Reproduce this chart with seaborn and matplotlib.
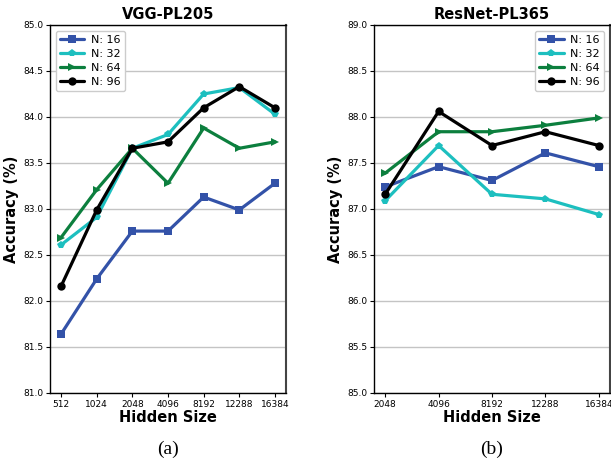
import pandas as pd
import matplotlib
matplotlib.use("Agg")
import matplotlib.pyplot as plt
import seaborn as sns

# hidden sizes for each panel
vgg_sizes = ["512", "1024", "2048", "4096", "8192", "12288", "16384"]
resnet_sizes = ["2048", "4096", "8192", "12288", "16384"]

# VGG-PL205 accuracies
vgg_n16 = [81.64, 82.24, 82.76, 82.76, 83.13, 82.99, 83.28]
vgg_n32 = [82.61, 82.91, 83.66, 83.81, 84.25, 84.32, 84.03]
vgg_n64 = [82.69, 83.21, 83.66, 83.28, 83.88, 83.66, 83.73]
vgg_n96 = [82.16, 82.99, 83.66, 83.73, 84.10, 84.33, 84.10]

# ResNet-PL365 accuracies
res_n16 = [87.24, 87.46, 87.31, 87.61, 87.46]
res_n32 = [87.09, 87.69, 87.16, 87.11, 86.94]
res_n64 = [87.39, 87.84, 87.84, 87.91, 87.99]
res_n96 = [87.16, 88.06, 87.69, 87.84, 87.69]

series_names = ["N: 16", "N: 32", "N: 64", "N: 96"]
colors = ["#3352a8", "#1dbfbf", "#0c7f3e", "#000000"]
markers = ["s", "p", ">", "o"]

sns.set_style("white")
plt.rcParams["font.family"] = ["DejaVu Sans"]
for k in ["text.color", "axes.labelcolor", "xtick.color", "ytick.color"]:
    plt.rcParams[k] = "black"

fig = plt.figure(figsize=(6.11, 4.68), dpi=100)
ax1 = fig.add_axes([50 / 611, 75 / 468, 236 / 611, 368 / 468])
ax2 = fig.add_axes([374 / 611, 75 / 468, 236 / 611, 368 / 468])


def draw_panel(ax, sizes, all_vals, title, ylim, loc, letter):
    for name, vals, c, m in zip(series_names, all_vals, colors, markers):
        df = pd.DataFrame({"size": sizes, "acc": vals})
        sns.lineplot(data=df, x="size", y="acc", ax=ax, color=c, marker=m,
                     markersize=6, linewidth=2.3, markeredgewidth=0,
                     label=name, sort=False)
    ax.set_ylim(*ylim)
    n = len(sizes)
    pad = 0.31 if n == 7 else 0.21
    ax.set_xlim(-pad, n - 1 + pad)
    ax.set_yticks([ylim[0] + 0.5 * i for i in range(9)])
    ax.yaxis.set_major_formatter(matplotlib.ticker.FormatStrFormatter("%.1f"))
    ax.tick_params(axis="both", labelsize=6.5, length=3, width=0.8,
                   left=True, bottom=True, pad=2)
    ax.grid(axis="y", color="#c4c4c4", linewidth=1)
    ax.set_axisbelow(True)
    for sp in ax.spines.values():
        sp.set_color("black")
        sp.set_linewidth(1)
    ax.spines["right"].set_color("#444444")
    ax.spines["right"].set_linewidth(1.5)
    ax.set_title(title, fontsize=10.5, fontweight="bold", pad=4)
    ax.set_xlabel("Hidden Size", fontsize=10.5, fontweight="bold", labelpad=1)
    ax.set_ylabel("Accuracy (%)", fontsize=10.5, fontweight="bold", labelpad=3)
    ax.legend(loc=loc, fontsize=8, handlelength=2.2, borderpad=0.4,
              labelspacing=0.35, handletextpad=0.6, frameon=True,
              fancybox=True, framealpha=1, edgecolor="#cccccc")
    ax.text(0.5, -0.13, letter, transform=ax.transAxes, ha="center",
            va="top", fontsize=14, family="Liberation Serif")


draw_panel(ax1, vgg_sizes, [vgg_n16, vgg_n32, vgg_n64, vgg_n96],
           "VGG-PL205", (81.0, 85.0), "upper left", "(a)")
draw_panel(ax2, resnet_sizes, [res_n16, res_n32, res_n64, res_n96],
           "ResNet-PL365", (85.0, 89.0), "upper right", "(b)")

fig.savefig("out.png", dpi=100)
